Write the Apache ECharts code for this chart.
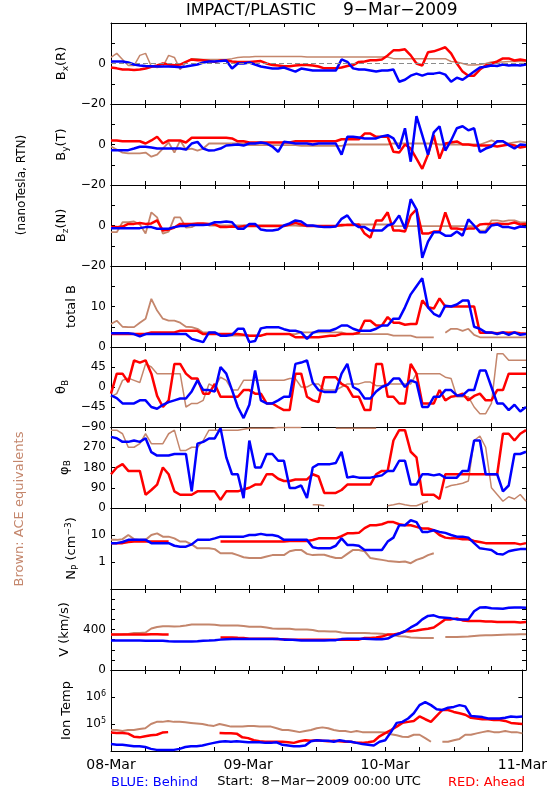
<!DOCTYPE html>
<html><head><meta charset="utf-8">
<script src="https://cdn.jsdelivr.net/npm/echarts@6/dist/echarts.min.js"></script>
<style>html,body{margin:0;padding:0;background:#fff}#c{width:550px;height:800px}</style>
</head><body><div id="c"></div>
<script>
// time grid: hours since 8-Mar-2009 00:00 UTC
const hours = [0,1,2,3,4,5,6,7,8,9,10,11,12,13,14,15,16,17,18,19,20,21,22,23,24,25,26,27,28,29,30,31,32,33,34,35,36,37,38,39,40,41,42,43,44,45,46,47,48,49,50,51,52,53,54,55,56,57,58,59,60,61,62,63,64,65,66,67,68,69,70,71,72];
const dayHours = [0,24,48,72];
const dayLabels = ['08-Mar','09-Mar','10-Mar','11-Mar'];

// Bx(R) nT
const bxBlue = [1,1,1,0.5,-0.5,-1,-1.2,-1.3,-1.5,-1.5,-1.5,-1.6,-1.8,-1.5,-1,-0.5,0.5,1,1,1.2,1.5,-2.5,0,0,0.5,-0.5,-1.5,-2,-2.5,-2.5,-2,-3,-4,-2.5,-3,-3.5,-3.5,-3.5,-3.5,-3.5,2,0.8,-2.4,-3,-3,-3.5,-4,-3.5,-3.5,-3,-9,-8,-6,-5,-6,-5,-5,-4.5,-5.5,-9,-7,-8,-6,-4,-2,-1.6,-1,-1.2,-0.5,-1,-0.8,-1,-0.5];
const bxRed = [-2,-2.4,-3,-3,-3.2,-3,-2.5,-1.6,-1,0,-0.5,-0.8,-0.5,0.8,2,1.6,1.6,1.2,0.8,1.5,1.5,1,0.8,0.8,0.8,1,1.2,0,-0.8,-1,-1.3,-1.3,-1,-0.8,-0.8,-1,-1.5,-2.4,-2.4,-2.4,-2,-1.2,-0.8,0.8,1,1.6,1.6,2,4,6.5,6.5,7,4,0,-1,5.6,6,7,8,5,0,-4,-6,-6,-3,-1,0,1,2.5,2.5,1.5,2,1.5];
const bxAce = [3,5,2,-1,-1,4,5,-1.5,-2,-1.5,4,3,-3,0.5,2.4,2.4,2,2,2,2,2,2.4,3,3.2,3.2,3.5,3.5,3.5,3.5,3.5,3.5,3.5,3.5,3.5,3.2,3.2,3.2,3.2,3.2,3.2,3.2,3.2,3.2,3.2,3.2,3.2,3.2,3.2,3.2,2.4,2.4,2.4,2.4,2.4,2.4,2.4,2.4,2.4,2.4,1,0.8,0,-0.8,-0.8,-0.5,0,0.8,0.8,0.8,1,1,1,1];

// By(T) nT
const byBlue = [-2.8,-2.8,-2.8,-2.8,-2,-1.1,-1.1,-1.5,-2,-2,-2,-2,-2,-2.5,0.5,1.3,-2,-3,-2.8,-2,-0.5,-0.3,0,-0.5,0.5,0.5,1,0.5,-1,-3.6,1.3,1,0.5,0.5,0.5,0,0.5,0.5,0.5,0.5,-5,3.8,3.8,3.5,3,3,3,4,4.6,3,-2,8,-8.5,14,4.6,-5,6,9,-3,2,8,9,7,8,-3.6,-2,-1,1.6,1.6,-0.3,-2,0,-0.3];
const byRed = [2,2,1.6,1.6,1.6,1.6,0.5,2,3.8,0.5,2,2,2,1,3.3,3.3,3.3,3.3,3.3,3.3,3.3,3,1.6,1.6,1,1,1,1,1,1,1,1,1.6,1.6,1.6,1.6,1.6,1.6,1.6,1.6,2.6,2.6,2.6,2.6,5.4,5.4,3.8,3.8,3.8,-3.6,-4,0,-2,-7,-12,-5,4.6,-7,0.5,1,1.5,0,0,-0.5,-0.5,-0.5,-0.5,-1,-0.5,0,-0.5,-1.5,-1];
const byAce = [-1,-2.5,-4,-4.4,-4.4,-4.4,-4,-6,-5,-2,1,-4,2,-2.5,-2,-3,-2,0.5,0.5,0.5,0.5,0.5,0.5,0.5,-0.3,-0.3,-0.3,-0.3,-0.3,-0.3,-0.3,-0.3,-0.3,-0.7,-0.7,-0.7,-0.7,-0.7,-0.7,-0.7,-0.7,0,0,0,0,0,0,0,0,0.5,0.5,0.5,0.5,0.5,0.5,0.5,0.5,0,0,0,0,0,0,0,0,1,2,1,1.5,0.5,1,1.5,1];

// Bz(N) nT
const bzBlue = [-1.3,-1.3,-1.3,-1.3,-1.3,-1.3,-0.8,-0.8,-1.6,-1.6,-1.6,-0.8,-0.3,-0.3,0.3,0.3,0.3,0.5,1.6,1.6,2,1.6,-1.6,-1.6,0.8,0.8,-2,-2.5,-2.5,-2,0,1,2.5,2,0,0,-0.5,-0.8,-0.8,-0.5,3.3,5,1,-0.8,-0.8,-2.5,-2.5,-2.5,0,1,5,-1.6,13,8,-16,-8,-3.3,-3.3,-5,-5,-3,-5,3,0,-3.3,-3.3,0,0.5,-0.8,-0.8,-1.5,-0.5,-0.8];
const bzRed = [-0.8,-0.8,-0.5,0.8,0.8,1.2,0.8,1,2.5,-2.5,-2,-1,0.8,0.8,0.8,1,1,0.8,0.5,-0.8,-0.8,-0.5,-0.8,-0.3,-0.3,-0.3,-0.3,-0.3,-0.3,-0.3,-0.3,0.5,1.3,0.5,-0.3,-0.3,-0.3,-0.3,-0.3,-0.3,0.3,0.3,0.3,0.5,-4,-6,2.5,2.5,6.5,-2.5,-2.5,-3,5,8,-4,-4,-3,-3,6.5,-1.5,-1.5,-2,-1.5,-1.5,0.5,0.8,0.8,1,0.8,0.8,1.5,0.5,0.8];
const bzAce = [-3.3,-3.3,1.6,1.6,2,0.5,-4,6.5,4,-4,-3,4,4,-1,-0.8,0.8,0.8,0,0,0,0,0,0,0,0,0,0,0,0,0,0,0,0,-0.3,-0.3,-0.3,-0.3,-0.3,-0.3,-0.3,-0.3,0.5,0.5,0.5,0.5,0.5,0.5,0.5,0.5,-0.3,-0.3,-0.3,-0.3,-0.3,-0.3,-0.3,-0.3,-0.3,-0.3,-0.3,-0.3,-0.3,-0.3,-0.3,-2.5,-2.5,2.5,2.5,2,2.5,2.5,1.5,1.5];

// total B nT
const btBlue = [3.4,3.4,3.4,3.4,3.2,2.6,3.2,3.2,3.2,3.2,3.2,3.2,3.2,3.2,2,1.6,1.2,3.6,3.6,2.8,2.8,3,4.5,4.5,1.2,1.5,4.6,4.9,4.9,4.9,4.4,4,4,3.6,2,3.5,4,4,4,4.5,5.3,5.3,4.5,4,4,4,4.5,5.3,5.3,7,7,9.8,13,15,17,9.8,8.2,7.5,10.2,10,10.5,11.5,11.5,5,4.5,3.6,3.6,3.2,3.6,3,3.6,3,3.2];
const btRed = [3.2,3.2,3.2,3.2,3.2,3.2,3.2,3.6,3.6,3.6,3.6,3.6,4,4,4,4,3.2,3.2,3.2,3.2,3.2,3.2,3.2,3,2.8,2.8,2.8,3.2,3.2,3.2,3.2,3.2,2.4,2.4,2.4,2.4,2.4,2.6,2.8,2.8,3.2,3.2,3.2,3.5,6.5,6.5,5.3,5.3,7.4,6,6,5.5,5.7,5.7,11.5,9.8,9.5,12,10,10,10,10,10,10,3.5,3.6,3.5,3.4,3.6,3.5,3.6,3.4,3.3];
const btAce = [5.7,6.5,5,4.9,4.9,6,7,11.9,9,7,6.5,6.5,6,5,4.9,4.5,3.6,3.6,3.6,2.8,2.8,2.8,2.8,2.8,2.8,2.8,2.8,3.2,3.2,3.2,3.2,3.2,3.2,3.6,3.6,3.6,3.6,3.6,3.6,3.6,3.6,3.2,3.2,3.2,3.2,3.2,3.2,3.2,3.2,2.8,2.8,2.8,2.8,2.4,2.4,2.4,2.4,null,3.5,4.5,4.5,4,4.5,3,2.4,2.4,2.4,2.4,2.4,2.4,2.4,2.4,2.4];

// theta_B deg
const thBlue = [-19,-25,-37,-37,-37,-30,-30,-45,-49,-40,-34,-30,-26,-26,-10,15,-7,-7,-10,45,30,-7,-45,-70,-40,37,-30,-37,-37,-30,-22,-22,52,55,60,10,-7,-11,-11,-11,30,52,0,-7,-26,-26,-10,0,5,19,19,0,15,10,-45,-45,-22,-22,-7,-7,-19,-19,-7,-7,37,37,0,-37,-37,-52,-40,-55,-45];
const thRed = [-15,30,30,11,60,55,60,30,-20,-45,-30,52,52,30,19,19,-15,-15,7,-22,-22,-22,-22,-7,-7,-15,-15,-37,-37,-45,-52,-52,30,30,-22,-30,-34,22,22,22,7,0,-22,-22,-52,-52,52,52,-22,-22,-37,-37,52,30,-37,-37,-37,-7,-30,-22,-20,-15,-30,-20,-15,-30,-30,-7,-7,30,30,30,30];
const thAce = [-22,-15,15,20,15,10,52,45,30,30,30,30,30,-45,-37,-37,-30,7,0,22,15,-7,-7,15,15,15,15,15,15,15,15,19,19,0,0,7,7,-7,-7,-7,0,7,7,7,11,11,3,3,7,7,7,7,7,30,30,30,30,30,22,19,-22,-22,-22,-45,-60,-60,-37,75,75,60,60,60,60];

// phi_B deg
const phBlue = [316,310,294,294,300,294,310,248,233,233,233,240,240,240,74,286,294,309,309,355,225,150,150,44,300,180,180,240,240,210,210,89,89,100,44,180,195,195,195,200,250,135,140,135,135,135,140,145,165,165,210,210,104,104,150,150,145,150,135,135,135,165,165,300,300,150,150,150,74,100,240,240,250];
const phRed = [150,180,195,165,165,165,59,80,104,180,150,74,59,59,59,74,74,74,74,36,74,74,74,82,90,104,104,150,150,130,120,120,127,127,127,150,140,67,67,67,80,104,104,104,104,104,150,165,165,300,346,346,250,225,59,59,59,40,150,150,150,150,150,150,150,150,150,150,330,330,300,330,346];
const phAce = [346,346,330,270,270,286,330,286,286,286,330,346,256,256,270,270,300,346,346,346,346,346,346,350,354,354,354,354,354,358,358,358,358,358,null,14,14,10,null,355,355,355,355,355,355,355,355,null,10,14,20,14,10,10,20,30,null,null,90,100,104,110,120,300,320,270,90,60,30,50,40,60,30];

// Np cm^-3
const npBlue = [5,5,5.5,6.6,6.6,6.6,6.6,5,5,5,5,4,3.7,3.7,4.5,6.6,6.6,6.6,7.5,8.7,8.7,8.7,8.7,8.7,10,10,11,10,10,9,6.6,6.6,6.6,6.6,6.6,3.5,3.2,3.2,3.2,4,7.5,4.3,4.3,4,2.8,2.8,2.8,2.8,5.7,8,23,23,35,30,13,13,15,13,12,10,8.7,8.7,8,5,3.2,3,2.8,2,1.9,2.5,2.8,3,3];
const npRed = [5,5,5,5.5,5.7,5.7,5.7,5.7,5.7,5.7,5.7,null,null,null,null,null,null,null,null,5.7,5.7,5.7,5.7,5.7,5.7,5.7,5.7,5.7,5.7,5.7,5.7,6,6,6,6,6.5,7.5,7.5,7.5,7.5,9,11.5,11.5,12,18,23,23,25,30,30,25,23,23,20,17.5,17.5,15,10,8,7.5,7.5,7,7,6,5.5,5,5,5,5,5,5,4.5,5];
const npAce = [6.6,6.6,7,10,7,6.6,6.6,10,11.5,8.7,8.7,7.5,5.7,5.7,4.5,3.2,3.2,3.2,3,2.1,2.1,2.1,1.8,1.5,1.4,1.4,1.4,1.6,1.8,1.8,1.8,2.5,2.8,2.8,2,1.8,1.85,1.85,1.6,1.4,1.4,2,2.8,2.8,2.5,1.4,1.3,1.2,1.1,1.05,1,1.05,0.9,1.2,1.4,1.8,2.1,null,null,null,null,null,null,null,null,null,null,null,null,null,null,null,null];

// V km/s
const vBlue = [292,292,292,292,292,292,290,290,290,290,285,282,282,282,282,285,290,292,295,300,303,306,306,306,306,306,306,306,306,306,300,300,296,292,292,292,292,292,295,295,305,309,309,309,309,305,303,303,310,340,360,383,420,450,500,534,540,520,517,510,500,500,500,580,618,620,610,608,605,615,618,618,615];
const vRed = [350,350,350,350,350,350,350,352,352,350,350,null,null,null,null,null,null,null,null,322,322,322,318,315,309,309,309,309,309,305,303,300,299,299,299,299,299,299,299,299,300,300,300,300,316,316,320,330,350,350,360,383,383,390,400,407,420,460,500,500,510,490,484,484,484,480,478,474,474,474,474,470,474];
const vAce = [350,350,352,355,366,366,370,410,425,433,433,430,433,440,450,450,450,450,448,440,440,440,440,435,427,427,427,420,410,407,407,407,400,400,400,395,383,383,380,380,370,366,366,366,366,362,360,358,350,345,333,330,320,318,316,316,316,null,326,326,326,328,330,335,340,342,344,346,348,350,350,352,352];

// Ion temperature K
const tBlue = [1.8e4,1.7e4,1.7e4,1.6e4,1.5e4,1.5e4,1.4e4,1.2e4,1.1e4,1.1e4,1.1e4,1.1e4,1.2e4,1.4e4,1.5e4,1.5e4,1.6e4,1.8e4,2.0e4,2.2e4,2.3e4,2.2e4,2.3e4,2.2e4,2.1e4,2.1e4,2.1e4,2.0e4,2.0e4,2.1e4,1.7e4,1.6e4,1.5e4,1.5e4,1.6e4,2.3e4,2.5e4,2.4e4,2.4e4,2.2e4,2.5e4,2.3e4,2.2e4,2.0e4,1.8e4,1.7e4,1.6e4,2.2e4,2.5e4,5e4,1.1e5,1.2e5,1.6e5,2.5e5,5e5,6.5e5,5e5,3.5e5,3.3e5,4e5,4.3e5,5e5,4.5e5,2e5,1.9e5,1.8e5,1.6e5,1.6e5,1.6e5,1.7e5,1.9e5,1.8e5,1.9e5];
const tRed = [4.8e4,4.6e4,4.6e4,4.4e4,3.4e4,3.2e4,3.5e4,3.8e4,4.0e4,4.8e4,5.0e4,null,null,null,null,null,null,null,null,4.6e4,4.5e4,4.5e4,4.4e4,3.2e4,3.0e4,2.5e4,2.3e4,2.2e4,2.2e4,2.2e4,2.2e4,2.1e4,2.0e4,2.3e4,2.5e4,2.4e4,2.5e4,2.4e4,2.3e4,2.4e4,2.3e4,2.2e4,2.2e4,2.0e4,2.0e4,2.1e4,2.3e4,3.5e4,4.6e4,6e4,8e4,1.1e5,1.2e5,1.3e5,1.9e5,1.5e5,1.2e5,2e5,3.3e5,3.3e5,2.8e5,2.5e5,2.2e5,1.7e5,1.6e5,1.5e5,1.5e5,1.4e5,1.4e5,1.3e5,1.1e5,1.05e5,1.0e5];
const tAce = [6e4,6e4,5.5e4,6e4,6e4,6.5e4,7e4,1.0e5,1.2e5,1.2e5,1.3e5,1.2e5,1.2e5,1.15e5,1.1e5,1.05e5,1.0e5,9e4,8.5e4,1.0e5,9e4,8e4,8e4,8e4,8.5e4,8.5e4,8e4,8e4,8e4,7e4,6e4,6e4,5.5e4,5e4,5.5e4,6e4,7e4,7.5e4,7e4,6e4,5.5e4,5.5e4,5e4,5.5e4,5e4,5e4,5e4,5e4,4.8e4,4.2e4,3.8e4,3.4e4,3.3e4,4e4,4e4,3e4,2.2e4,null,2.2e4,2.2e4,2.5e4,2.8e4,4e4,4e4,4.5e4,5e4,5.5e4,5e4,5e4,5.5e4,5e4,5e4,4.5e4];

const BLUE = '#0000ff', RED = '#ff0000', BROWN = '#c4866c';
const FONT = 'DejaVu Sans';

const panels = [
  {name:'B{s|x}(R)', min:-20, max:20, interval:10, labels:[-20,0], gap:38, d:[bxAce,bxRed,bxBlue], zero:true, bw:1.5},
  {name:'B{s|y}(T)', min:-20, max:20, interval:10, labels:[-20,0], gap:38, d:[byAce,byRed,byBlue], bw:1.8},
  {name:'B{s|z}(N)', min:-20, max:20, interval:10, labels:[-20,0], gap:38, d:[bzAce,bzRed,bzBlue], bw:1.8},
  {name:'total B', min:0, max:20, interval:5, labels:[0,10], gap:31, d:[btAce,btRed,btBlue], bw:1.8},
  {name:'\u03b8{s|B}', min:-90, max:90, interval:45, labels:[-90,-45,0,45], gap:36, d:[thAce,thRed,thBlue], bw:1.5},
  {name:'\u03c6{s|B}', min:0, max:360, interval:90, labels:[0,90,180,270], gap:36, d:[phAce,phRed,phBlue], bw:1.5},
  {name:'N{s|P} (cm{u|\u22123})', log:true, min:0.1, max:100, labels:[1,10], gap:29, d:[npAce,npRed,npBlue], bw:2},
  {name:'V (km/s)', min:0, max:800, interval:100, labels:[0,400], gap:38, d:[vAce,vRed,vBlue], bw:2},
  {name:'Ion Temp', log:true, min:1e4, max:1e7, labels:[1e5,1e6], sup:true, gap:34, d:[tAce,tRed,tBlue], bw:2}
];
const tops = [23,104,185,266,347,427,508,589,670];
const heights = [81,81,81,81,80,81,81,81,81];

function fmtNum(v){ return String(v).replace('-', '\u2212'); }
function isLabel(p, v){ return p.labels.some(l => Math.abs(l - v) <= 1e-6 * Math.max(1, Math.abs(l))); }

const grid = [], xAxis = [], yAxis = [], series = [];
panels.forEach((p, i) => {
  grid.push({left:111, width:415, top:tops[i], height:heights[i], containLabel:false});
  const last = i === panels.length - 1;
  const xBase = {type:'value', gridIndex:i, min:0, max:72, interval:6,
    axisLine:{show:true, onZero:false, lineStyle:{color:'#000', width:1}},
    axisTick:{show:true, inside:true, length:4, lineStyle:{color:'#000'}},
    splitLine:{show:false}};
  xAxis.push(Object.assign({}, xBase, {position:'bottom',
    axisLabel:{show:last, margin:7, fontSize:14, fontFamily:FONT, color:'#000',
      showMinLabel:true, showMaxLabel:true,
      formatter: v => { const k = dayHours.indexOf(v); return k >= 0 ? dayLabels[k] : ''; }}}));
  xAxis.push(Object.assign({}, xBase, {position:'top', axisLabel:{show:false}}));
  const yBase = {gridIndex:i, min:p.min, max:p.max,
    axisLine:{show:true, onZero:false, lineStyle:{color:'#000', width:1}},
    axisTick:{show:true, inside:true, length:4, lineStyle:{color:'#000'}},
    splitLine:{show:false}};
  if (p.log) { yBase.type = 'log'; yBase.logBase = 10; } else { yBase.type = 'value'; yBase.interval = p.interval; }
  yAxis.push(Object.assign({}, yBase, {position:'left',
    name:p.name, nameLocation:'middle', nameRotate:90, nameGap:p.gap,
    nameTextStyle:{fontSize:13, fontFamily:FONT, color:'#000', lineHeight:16,
      rich:{s:{fontSize:9, fontFamily:FONT, verticalAlign:'bottom', lineHeight:9, color:'#000'},
            u:{fontSize:9, fontFamily:FONT, verticalAlign:'top', lineHeight:9, color:'#000'}}},
    axisLabel:{show:true, margin:5, fontSize:12, fontFamily:FONT, color:'#000', showMinLabel:true, showMaxLabel:true,
      lineHeight:14,
      rich:{u:{fontSize:8, fontFamily:FONT, verticalAlign:'top', lineHeight:8, color:'#000'}},
      formatter: v => {
        if (!isLabel(p, v)) return '';
        if (p.sup) return '10{u|' + Math.round(Math.log10(v)) + '}';
        return fmtNum(v);
      }}}));
  yAxis.push(Object.assign({}, yBase, {position:'right', axisLabel:{show:false}}));
  const cols = [BROWN, RED, BLUE];
  const widths = [p.bw, 2.5, 2.5];
  p.d.forEach((arr, k) => {
    const s = {type:'line', xAxisIndex:2*i, yAxisIndex:2*i, showSymbol:false, symbol:'none',
      silent:true, animation:false, connectNulls:false, clip:true,
      lineStyle:{color:cols[k], width:widths[k]}, itemStyle:{color:cols[k]},
      data: hours.map((h, j) => [h, arr[j] == null ? '-' : arr[j]])};
    if (p.zero && k === 0) {
      s.markLine = {silent:true, symbol:'none', label:{show:false}, animation:false,
        lineStyle:{color:'#8c8c8c', type:[5,3], width:1}, data:[{yAxis:0}]};
    }
    series.push(s);
  });
});

const graphic = [
  {type:'text', x:186, y:11, style:{text:'IMPACT/PLASTIC', font:'16px "DejaVu Sans"', fill:'#000', textAlign:'left', textVerticalAlign:'middle'}},
  {type:'text', x:343, y:11, style:{text:'9\u2212Mar\u22122009', font:'17px "DejaVu Sans"', fill:'#000', textAlign:'left', textVerticalAlign:'middle'}},
  {type:'text', x:22, y:185, rotation:Math.PI/2, style:{text:'(nanoTesla, RTN)', font:'12px "DejaVu Sans"', fill:'#000', textAlign:'center', textVerticalAlign:'middle'}},
  {type:'text', x:20, y:509, rotation:Math.PI/2, style:{text:'Brown: ACE equivalents', font:'13px "DejaVu Sans"', fill:BROWN, textAlign:'center', textVerticalAlign:'middle'}},
  {type:'text', x:111, y:783, style:{text:'BLUE: Behind', font:'13px "DejaVu Sans"', fill:BLUE, textAlign:'left', textVerticalAlign:'middle'}},
  {type:'text', x:319, y:782, style:{text:'Start:  8\u2212Mar\u22122009 00:00 UTC', font:'13px "DejaVu Sans"', fill:'#000', textAlign:'center', textVerticalAlign:'middle'}},
  {type:'text', x:525, y:783, style:{text:'RED: Ahead', font:'13px "DejaVu Sans"', fill:RED, textAlign:'right', textVerticalAlign:'middle'}}
];

const chart = echarts.init(document.getElementById('c'), null, {renderer:'canvas', width:550, height:800});
chart.setOption({backgroundColor:'#fff', animation:false, grid, xAxis, yAxis, series, graphic});
</script>
</body></html>
